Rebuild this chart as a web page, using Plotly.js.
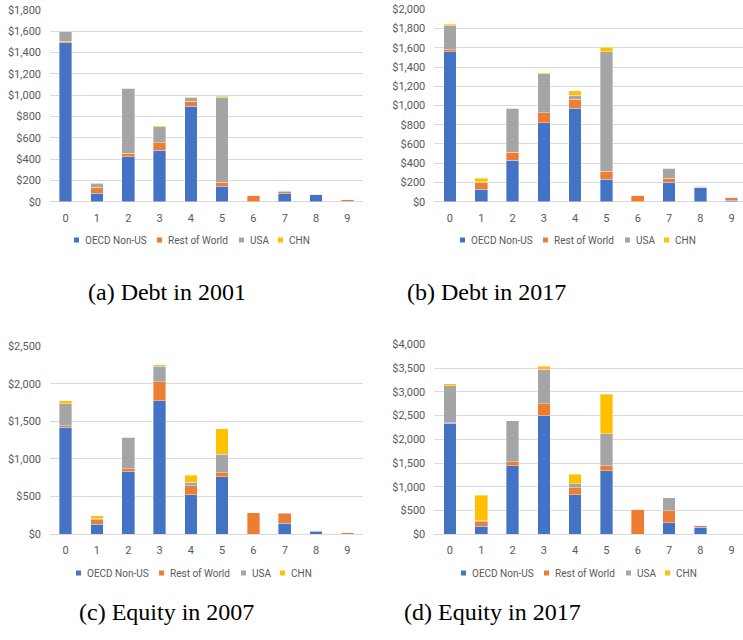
<!DOCTYPE html>
<html>
<head>
<meta charset="utf-8">
<script src="https://cdn.plot.ly/plotly-3.0.1.min.js"></script>
<style>html,body{margin:0;padding:0;background:#fff;overflow:hidden;}#chart{width:743px;height:640px;}</style>
</head>
<body>
<div id="chart"></div>
<script>
// ---- data ----
const categories = [0, 1, 2, 3, 4, 5, 6, 7, 8, 9];
const seriesNames = ["OECD Non-US", "Rest of World", "USA", "CHN"];

const debt2001_oecd = [1493, 79, 423, 485, 898, 147, 0, 79, 64, 6];
const debt2001_row  = [13, 56, 34, 69, 44, 35, 55, 21, 0, 16];
const debt2001_usa  = [94, 38, 607, 150, 35, 798, 5, 3, 5, 2];
const debt2001_chn  = [6, 3, 2, 7, 3, 9, 0, 0, 0, 0];

const debt2017_oecd = [1560, 128, 433, 821, 971, 236, 0, 201, 146, 17];
const debt2017_row  = [17, 73, 80, 104, 93, 83, 62, 42, 3, 25];
const debt2017_usa  = [253, 8, 458, 406, 45, 1241, 5, 107, 10, 2];
const debt2017_chn  = [14, 34, 0, 7, 42, 45, 0, 0, 0, 0];

const equity2007_oecd = [1420, 133, 832, 1770, 522, 766, 0, 146, 40, 0];
const equity2007_row  = [23, 60, 40, 257, 124, 48, 283, 128, 13, 18];
const equity2007_usa  = [292, 12, 416, 203, 44, 252, 3, 9, 4, 2];
const equity2007_chn  = [35, 40, 0, 18, 93, 337, 0, 0, 0, 0];

const equity2017_oecd = [2337, 165, 1439, 2491, 828, 1333, 0, 239, 147, 0];
const equity2017_row  = [14, 95, 84, 253, 154, 106, 526, 252, 35, 21];
const equity2017_usa  = [779, 20, 870, 730, 85, 680, 5, 274, 8, 3];
const equity2017_chn  = [35, 545, 0, 63, 196, 829, 0, 0, 0, 0];

const captions = ["(a) Debt in 2001", "(b) Debt in 2017", "(c) Equity in 2007", "(d) Equity in 2017"];

// ---- styling ----
const colors = ["#4472C4", "#ED7D31", "#A5A5A5", "#FFC000"];
const txt = "#595959";
const grid = "#D9D9D9";
const sans = "Roboto, Liberation Sans, Arial, sans-serif";
const W = 743, H = 640;

const panels = [
  {series: [debt2001_oecd, debt2001_row, debt2001_usa, debt2001_chn], ax: "", legX: 74, legY: 240},
  {series: [debt2017_oecd, debt2017_row, debt2017_usa, debt2017_chn], ax: "2", legX: 460, legY: 240},
  {series: [equity2007_oecd, equity2007_row, equity2007_usa, equity2007_chn], ax: "3", legX: 76, legY: 573},
  {series: [equity2017_oecd, equity2017_row, equity2017_usa, equity2017_chn], ax: "4", legX: 461, legY: 573}
];

const traces = [];
panels.forEach(p => {
  p.series.forEach((vals, i) => {
    traces.push({
      type: "bar",
      x: categories,
      y: vals,
      name: seriesNames[i],
      xaxis: "x" + p.ax,
      yaxis: "y" + p.ax,
      showlegend: false,
      marker: {color: colors[i], line: {color: "rgba(255,255,255,0.45)", width: 0.8}},
      hoverinfo: "x+y+name"
    });
  });
});

function xd(l, r) { return [l / W, Math.min(1, r / W)]; }
function yd(top, bottom) { return [(H - bottom) / H, (H - top) / H]; }

function xaxis(domain, range, anchor) {
  return {
    domain: domain, range: range, anchor: anchor,
    tickmode: "array", tickvals: categories, ticktext: categories.map(String),
    showgrid: false, zeroline: false, showline: false,
    ticks: "", ticklabelstandoff: 8,
    tickfont: {family: sans, size: 11, color: txt}, fixedrange: true
  };
}
function yaxis(domain, max, dtick, anchor) {
  return {
    domain: domain, range: [0, max], anchor: anchor,
    dtick: dtick, tick0: 0, tickprefix: "$", tickformat: ",d",
    showgrid: true, gridcolor: grid, gridwidth: 1,
    zeroline: true, zerolinecolor: grid, zerolinewidth: 1,
    showline: false, ticks: "", ticklabelstandoff: 8,
    tickfont: {family: sans, size: 11, color: txt}, fixedrange: true
  };
}

// legend built per panel: small square swatches + labels (Excel-style compact legend)
const swatchOffsets = [0, 83, 165, 204];
const labelOffsets = [9, 92, 174, 213];
const shapes = [];
const annotations = [];
panels.forEach(p => {
  seriesNames.forEach((nm, i) => {
    const sx = p.legX + swatchOffsets[i];
    shapes.push({
      type: "rect", xref: "paper", yref: "paper",
      x0: sx / W, x1: (sx + 5) / W,
      y0: (H - (p.legY + 2.5)) / H, y1: (H - (p.legY - 2.5)) / H,
      fillcolor: colors[i], line: {width: 0}
    });
    annotations.push({
      text: nm, xref: "paper", yref: "paper",
      x: (p.legX + labelOffsets[i]) / W, y: (H - p.legY) / H,
      xanchor: "left", yanchor: "middle", showarrow: false,
      font: {family: sans, size: 10, color: txt}
    });
  });
});

const capPos = [[167, 292], [486, 292], [166, 612], [492, 612]];
captions.forEach((c, i) => {
  annotations.push({
    text: c, xref: "paper", yref: "paper",
    x: capPos[i][0] / W, y: (H - capPos[i][1]) / H,
    xanchor: "center", yanchor: "middle", showarrow: false,
    font: {family: "Liberation Serif, Times New Roman, serif", size: 24, color: "#000"}
  });
});

const colW = 31.3;
const layout = {
  width: W, height: H,
  margin: {l: 0, r: 0, t: 0, b: 0, pad: 0},
  paper_bgcolor: "#fff", plot_bgcolor: "#fff",
  barmode: "stack", bargap: 0.595,
  showlegend: false,
  xaxis:  xaxis(xd(50, 363), [-0.5, 9.5], "y"),
  yaxis:  yaxis(yd(10, 201.7), 1800, 200, "x"),
  xaxis2: xaxis(xd(434.3, 743), [-0.5, -0.5 + (743 - 434.3) / colW], "y2"),
  yaxis2: yaxis(yd(9.3, 201.7), 2000, 200, "x2"),
  xaxis3: xaxis(xd(50, 363), [-0.5, 9.5], "y3"),
  yaxis3: yaxis(yd(346, 534.3), 2500, 500, "x3"),
  xaxis4: xaxis(xd(434.3, 743), [-0.5, -0.5 + (743 - 434.3) / colW], "y4"),
  yaxis4: yaxis(yd(344.3, 534.3), 4000, 500, "x4"),
  shapes: shapes,
  annotations: annotations
};

Plotly.newPlot("chart", traces, layout, {displayModeBar: false, staticPlot: true});
</script>
</body>
</html>
